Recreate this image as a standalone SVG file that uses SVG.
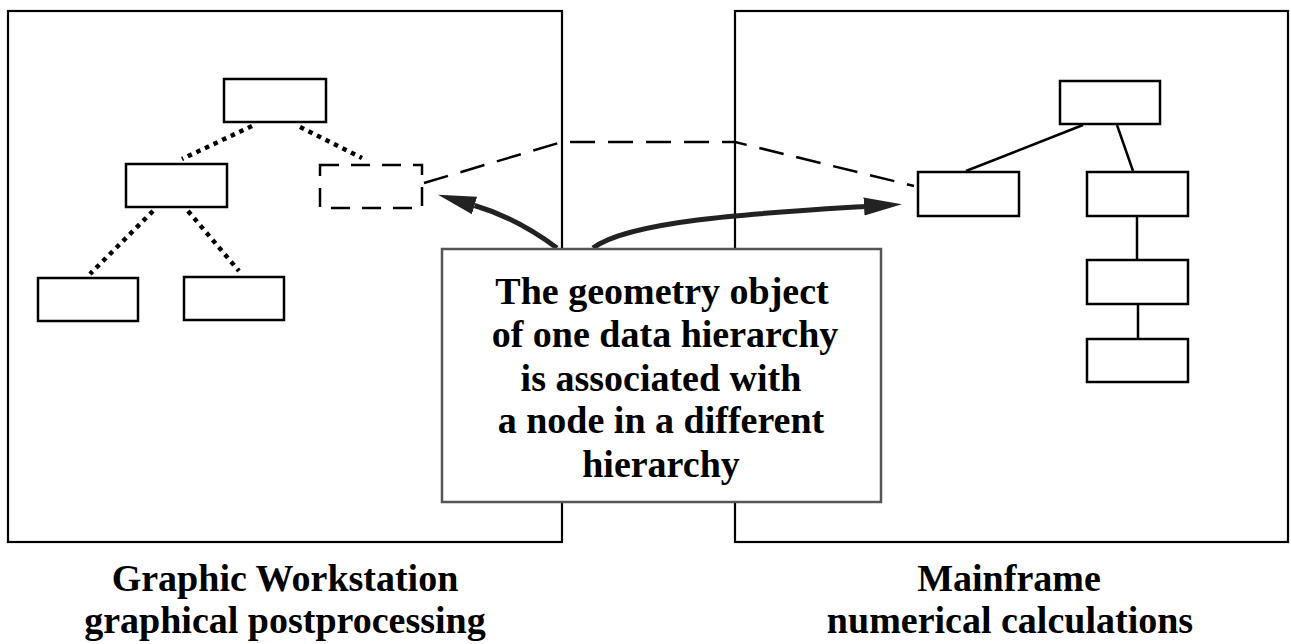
<svg xmlns="http://www.w3.org/2000/svg" width="1291" height="644" viewBox="0 0 1291 644">
<style>
.panel{fill:none;stroke:#000;stroke-width:2.2}
.node{fill:#fff;stroke:#000;stroke-width:2.5}
.ghost{fill:none;stroke:#000;stroke-width:2.5;stroke-dasharray:19 12}
.dot{fill:none;stroke:#000;stroke-width:4.5;stroke-dasharray:4.5 5}
.solid{fill:none;stroke:#000;stroke-width:2.5}
.dash{fill:none;stroke:#000;stroke-width:2.5;stroke-dasharray:25 13}
.arrow{fill:none;stroke:#222;stroke-width:5}
.note{fill:#fff;stroke:#555;stroke-width:2.5}
text{font-family:"Liberation Serif","Times New Roman",serif;font-weight:bold;font-size:38px;fill:#000;text-anchor:middle}
</style>
<defs>
<marker id="head" markerUnits="userSpaceOnUse" markerWidth="40" markerHeight="20" refX="0" refY="10" orient="auto">
<path d="M0,1 L38,10 L0,19 z" fill="#222"/>
</marker>
</defs>
<rect width="1291" height="644" fill="#fff"/>
<g id="panel-left"><rect class="panel" x="8" y="11" width="554" height="531"/></g>
<g id="panel-right"><rect class="panel" x="735" y="11" width="553" height="531"/></g>
<g id="connectors">
<path class="dot" d="M252,126 L182,159"/>
<path class="dot" d="M300,127 L362,158"/>
<path class="dot" d="M153,211 L90,274"/>
<path class="dot" d="M188,211 L239,271"/>
<path class="dash" d="M424,183 L562,142 L735,142 L914,186"/>
<path class="solid" d="M1083,125 L966,171"/>
<path class="solid" d="M1117,125 L1133,171"/>
<path class="solid" d="M1137,216 L1137,260"/>
<path class="solid" d="M1138,304 L1138,339"/>
<path class="arrow" d="M557,248 C530,228 500,213 474.5,205.5" marker-end="url(#head)"/>
<path class="arrow" d="M593,248 C630,220 760,213 864,206.5" marker-end="url(#head)"/>
</g>
<g id="ws-root"><rect class="node" x="224" y="79" width="102" height="43"/></g>
<g id="ws-child1"><rect class="node" x="126" y="164" width="101" height="43"/></g>
<g id="ws-geom"><rect class="ghost" x="320" y="165" width="102" height="43"/></g>
<g id="ws-leaf1"><rect class="node" x="38" y="278" width="100" height="43"/></g>
<g id="ws-leaf2"><rect class="node" x="184" y="277" width="100" height="43"/></g>
<g id="mf-root"><rect class="node" x="1060" y="81" width="100" height="43"/></g>
<g id="mf-child1"><rect class="node" x="918" y="172" width="101" height="44"/></g>
<g id="mf-child2"><rect class="node" x="1087" y="172" width="101" height="44"/></g>
<g id="mf-child3"><rect class="node" x="1087" y="260" width="101" height="44"/></g>
<g id="mf-child4"><rect class="node" x="1087" y="339" width="101" height="43"/></g>
<g id="note">
<rect class="note" x="442" y="249" width="439" height="253"/>
<text x="662" y="304">The geometry object</text>
<text x="665" y="347">of one data hierarchy</text>
<text x="661" y="391">is associated with</text>
<text x="661" y="433">a node in a different</text>
<text x="661" y="477">hierarchy</text>
</g>
<g id="label-left">
<text x="285" y="591">Graphic Workstation</text>
<text x="285" y="633">graphical postprocessing</text>
</g>
<g id="label-right">
<text x="1009" y="591">Mainframe</text>
<text x="1010" y="633">numerical calculations</text>
</g>
</svg>
